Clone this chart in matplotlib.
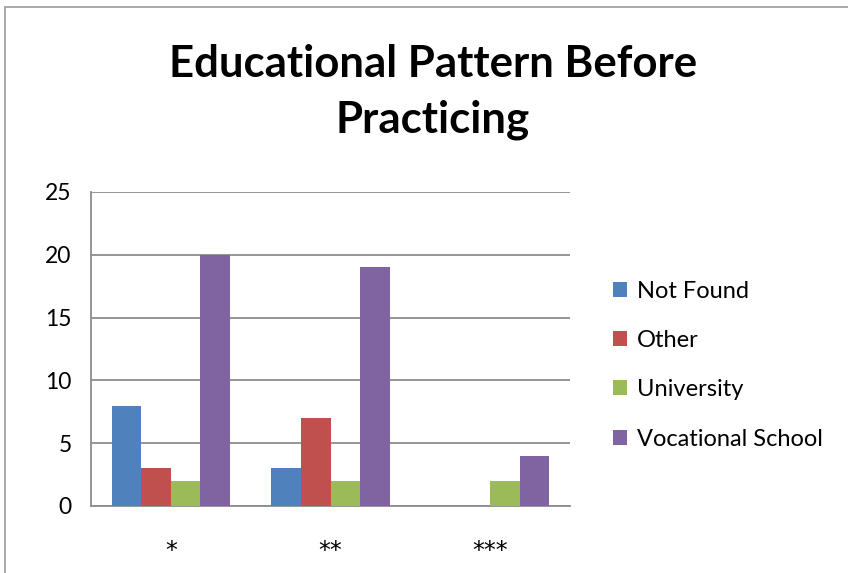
import numpy as np
import matplotlib.pyplot as plt
from matplotlib.patches import Rectangle

categories = ['*', '**', '***']
series_names = ['Not Found', 'Other', 'University', 'Vocational School']
not_found = [8, 3, 0]
other = [3, 7, 0]
university = [2, 2, 2]
vocational = [20, 19, 4]
colors = ['#4F81BD', '#C0504D', '#9BBB59', '#8064A2']

plt.rcParams['font.family'] = ['Lato', 'DejaVu Sans']

fig = plt.figure(figsize=(8.48, 5.73), dpi=100)
fig.patch.set_facecolor('white')

# chart frame (only top and left edges are visible in the crop)
frame = Rectangle((5 / 848, -0.1), 1.2, 1 - 7 / 573 + 0.1, transform=fig.transFigure,
                  fill=False, edgecolor='#999999', linewidth=1.2)
fig.patches.append(frame)

ax = fig.add_axes([91 / 848, 1 - 506 / 573, 479 / 848, 314 / 573])

x = np.arange(len(categories))
width = 0.185
values = [not_found, other, university, vocational]
for i, (name, vals) in enumerate(zip(series_names, values)):
    ax.bar(x + (i - 1.5) * width, vals, width, color=colors[i], label=name, zorder=3)

ax.set_xlim(-0.5, 2.5)
ax.set_ylim(0, 25)
ax.set_yticks(range(0, 26, 5))
ax.set_xticks(x)
ax.set_xticklabels(categories, family='DejaVu Sans')
ax.grid(axis='y', color='#8c8c8c', linewidth=1.3, zorder=0)
for side in ['top', 'right']:
    ax.spines[side].set_visible(False)
ax.spines['left'].set_color('#8c8c8c')
ax.spines['bottom'].set_color('#8c8c8c')
ax.spines['left'].set_linewidth(1.3)
ax.spines['bottom'].set_linewidth(1.3)
ax.tick_params(axis='y', length=0, labelsize=16.5, pad=14)
ax.tick_params(axis='x', length=0, labelsize=17, pad=24)

fig.text(433 / 848, 1 - 92 / 573, 'Educational Pattern Before\nPracticing',
         ha='center', va='center', fontsize=31.5, fontweight='bold', linespacing=1.45)

ax.legend(loc='center left', bbox_to_anchor=(592 / 848, 1 - 365 / 573),
          bbox_transform=fig.transFigure, frameon=False, fontsize=17,
          handlelength=0.6, handleheight=0.6, handletextpad=0.4, labelspacing=1.2)

plt.savefig('out.png', dpi=100)
plt.close()
